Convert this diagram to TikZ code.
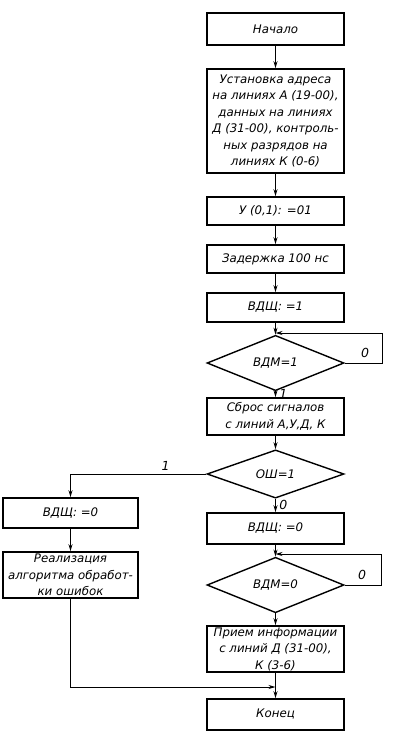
\documentclass[tikz,border=0pt]{standalone}
\usepackage{fontspec}
\setmainfont{DejaVu Sans}
\usetikzlibrary{shapes.geometric,arrows.meta}

\begin{document}
\begin{tikzpicture}[x=1pt,y=-1pt,
    font=\itshape\fontsize{11.8}{16.5}\selectfont,
    block/.style={draw, line width=1.6pt, rectangle, minimum width=137pt, inner sep=1pt, align=center},
    test/.style={draw, line width=1.4pt, diamond, minimum width=137pt, minimum height=34pt, inner sep=0pt},
    flow/.style={line width=0.9pt, -{Stealth[length=7pt,width=4pt]}},
    lbl/.style={font=\itshape\fontsize{12.5}{14}\selectfont}]
    \useasboundingbox (0,0) rectangle (400,740);

    % Main column
    \node[block, minimum height=32pt] (b1) at (275.5,29) {Начало};
    \node[block, minimum height=104pt] (b2) at (275.5,121) {Установка адреса\\на линиях А (19-00),\\данных на линиях\\Д (31-00), контроль-\\ных разрядов на\\линиях К (0-6)};
    \node[block, minimum height=28pt] (b3) at (275.5,211) {У (0,1): =01};
    \node[block, minimum height=28pt] (b4) at (275.5,259) {Задержка 100 нс};
    \node[block, minimum height=29pt] (b5) at (275.5,307.5) {ВДЩ: =1};
    \node[test] (t1) at (275.5,363) {ВДМ=1};
    \node[block, minimum height=37pt] (b6) at (275.5,416.5) {Сброс сигналов\\с линий А,У,Д, К};
    \node[test, minimum height=33pt] (t2) at (275.5,474) {ОШ=1};
    \node[block, minimum height=31pt] (b7) at (275.5,528.5) {ВДЩ: =0};
    \node[test] (t3) at (275.5,585) {ВДМ=0};
    \node[block, minimum height=46pt] (b8) at (275.5,649) {Прием информации\\с линий Д (31-00),\\К (3-6)};
    \node[block, minimum height=31pt] (b9) at (275.5,714.5) {Конец};

    % Error branch
    \node[block, minimum width=135pt, minimum height=30pt] (e1) at (70.5,513) {ВДЩ: =0};
    \node[block, minimum width=135pt, minimum height=46pt] (e2) at (70.5,575) {Реализация\\алгоритма обработ-\\ки ошибок};

    % Junctions
    \coordinate (j1) at (275.5,333);
    \coordinate (j2) at (275.5,554);
    \coordinate (j3) at (275.5,687);

    % Connectors
    \draw[flow] (b1) -- (b2);
    \draw[flow] (b2) -- (b3);
    \draw[flow] (b3) -- (b4);
    \draw[flow] (b4) -- (b5);
    \draw[flow] (b5) -- (t1);
    \draw[flow] (t1.east) -- (382,363) -- (382,333) -- (j1);
    \node[lbl] (l1) at (365,353) {0};
    \draw[flow] (t1) -- node[lbl, right, pos=0.5] {1} (b6);
    \draw[flow] (b6) -- (t2);
    \draw[flow] (t2.west) -- node[lbl, above, pos=0.3] {1} (70.5,474) -- (e1);
    \draw[flow] (t2) -- node[lbl, right, pos=0.45] {0} (b7);
    \draw[flow] (b7) -- (t3);
    \draw[flow] (t3.east) -- (381,585) -- (381,554) -- (j2);
    \node[lbl] (l2) at (362,575) {0};
    \draw[flow] (t3) -- (b8);
    \draw[flow] (e1) -- (e2);
    \draw[flow] (e2.south) -- (70.5,687) -- (j3);
    \draw[flow] (b8) -- (b9);

\end{tikzpicture}
\end{document}
